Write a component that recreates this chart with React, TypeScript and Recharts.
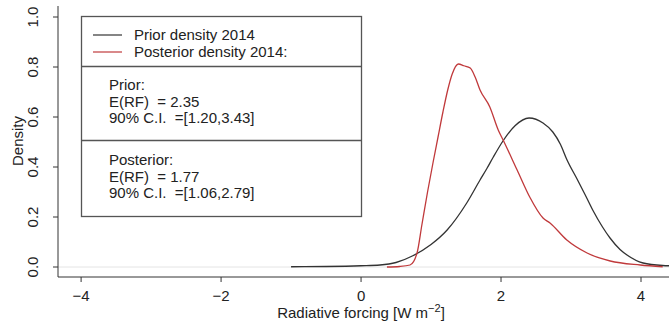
import React from 'react';
import { LineChart, Line, XAxis, YAxis, ReferenceLine } from 'recharts';

// prior density 2014 (black)
const priorX = [-1.0, -0.5, 0.0, 0.27, 0.5, 0.74, 1.0, 1.23, 1.51, 1.7, 1.8, 1.89, 2.03, 2.2, 2.4, 2.6, 2.74, 2.85, 2.94, 3.09, 3.2, 3.31, 3.45, 3.56, 3.7, 3.8, 4.03, 4.31, 4.4];
const priorY = [0.001, 0.002, 0.005, 0.008, 0.018, 0.045, 0.09, 0.148, 0.256, 0.348, 0.395, 0.44, 0.505, 0.565, 0.596, 0.576, 0.54, 0.49, 0.43, 0.35, 0.29, 0.228, 0.16, 0.115, 0.07, 0.048, 0.016, 0.006, 0.005];

// posterior density 2014 (red)
const postX = [0.37, 0.55, 0.7, 0.8, 0.87, 0.95, 1.03, 1.1, 1.17, 1.24, 1.3, 1.39, 1.47, 1.56, 1.63, 1.7, 1.84, 1.96, 2.03, 2.23, 2.41, 2.6, 2.7, 2.94, 3.23, 3.56, 3.99, 4.31];
const postY = [0.0, 0.002, 0.008, 0.056, 0.17, 0.3, 0.42, 0.52, 0.62, 0.71, 0.77, 0.812, 0.805, 0.796, 0.76, 0.708, 0.64, 0.548, 0.508, 0.388, 0.28, 0.196, 0.176, 0.108, 0.056, 0.024, 0.008, 0.001];

const xTicks = [-4, -2, 0, 2, 4];
const yTicks = [0, 0.2, 0.4, 0.6, 0.8, 1.0];

const legendRows = ['Prior density 2014', 'Posterior density 2014:'];
const priorStats = ['Prior:', 'E(RF)  = 2.35', '90% C.I.  =[1.20,3.43]'];
const postStats = ['Posterior:', 'E(RF)  = 1.77', '90% C.I.  =[1.06,2.79]'];

const prior = priorX.map((x, i) => ({ x, y: priorY[i] }));
const posterior = postX.map((x, i) => ({ x, y: postY[i] }));

const FONT = '"Liberation Sans", Arial, Helvetica, sans-serif';
const fmtX = (v: number) => (v < 0 ? `\u2212${Math.abs(v)}` : `${v}`);

const XTick = ({ x, y, payload }: any) => (
  <text x={x} y={y + 17} textAnchor="middle" fontSize={15} fill="#222" fontFamily={FONT}>
    {fmtX(payload.value)}
  </text>
);

const YTick = ({ y, payload }: any) => (
  <text x={38} y={y} transform={`rotate(-90, 38, ${y})`} textAnchor="middle" fontSize={15} fill="#222" fontFamily={FONT}>
    {payload.value.toFixed(1)}
  </text>
);

export default function App() {
  return (
    <div style={{ position: 'absolute', left: 0, top: 0, width: 669, height: 326, background: '#fff', fontFamily: FONT }}>
      <LineChart width={669} height={326} margin={{ top: 6, right: 0, bottom: 0, left: 0 }}>
        <XAxis
          type="number"
          dataKey="x"
          domain={[-4.33, 4.4]}
          allowDataOverflow
          ticks={xTicks}
          tick={<XTick />}
          tickSize={5}
          height={49}
          axisLine={{ stroke: '#333' }}
          tickLine={{ stroke: '#333' }}
        />
        <XAxis
          xAxisId="top"
          orientation="top"
          type="number"
          domain={[-4.33, 4.4]}
          height={0}
          tick={false}
          tickLine={false}
          axisLine={{ stroke: '#222', strokeWidth: 1.3 }}
        />
        <YAxis
          type="number"
          domain={[-0.04, 1.044]}
          allowDataOverflow
          ticks={yTicks}
          tick={<YTick />}
          tickSize={5}
          width={58}
          axisLine={{ stroke: '#333' }}
          tickLine={{ stroke: '#333' }}
        />
        <ReferenceLine y={0} stroke="#e4e4e4" strokeWidth={1} />
        <Line data={prior} dataKey="y" type="monotone" stroke="#333" strokeWidth={1.3} dot={false} isAnimationActive={false} />
        <Line data={posterior} dataKey="y" type="monotone" stroke="#c0393b" strokeWidth={1.3} dot={false} isAnimationActive={false} />
      </LineChart>

      <svg width={669} height={326} style={{ position: 'absolute', left: 0, top: 0, pointerEvents: 'none' }}>
        <text x={23} y={141} transform="rotate(-90, 23, 141)" textAnchor="middle" fontSize={15} fill="#222" fontFamily={FONT}>
          Density
        </text>
        <text x={361} y={318} textAnchor="middle" fontSize={15} fill="#222" fontFamily={FONT}>
          Radiative forcing [W m<tspan dy={-6} fontSize={11}>{'\u2212'}2</tspan><tspan dy={6}>]</tspan>
        </text>

        <rect x={81.5} y={16.5} width={280} height={200} fill="#fff" stroke="#555" strokeWidth={1.3} />
        <line x1={81.5} x2={361.5} y1={66.5} y2={66.5} stroke="#555" strokeWidth={1.3} />
        <line x1={81.5} x2={361.5} y1={140.5} y2={140.5} stroke="#555" strokeWidth={1.3} />

        <line x1={93} x2={122} y1={35} y2={35} stroke="#333" strokeWidth={1.2} />
        <line x1={93} x2={122} y1={52} y2={52} stroke="#c0393b" strokeWidth={1.2} />
        {legendRows.map((t, i) => (
          <text key={t} x={134} y={40 + i * 17} fontSize={15} fill="#222" fontFamily={FONT}>{t}</text>
        ))}
        {priorStats.map((t, i) => (
          <text key={t} x={109} y={90 + i * 16.5} fontSize={15} fill="#222" fontFamily={FONT} style={{ whiteSpace: 'pre' }}>{t}</text>
        ))}
        {postStats.map((t, i) => (
          <text key={t} x={109} y={165 + i * 16.5} fontSize={15} fill="#222" fontFamily={FONT} style={{ whiteSpace: 'pre' }}>{t}</text>
        ))}
      </svg>
    </div>
  );
}
